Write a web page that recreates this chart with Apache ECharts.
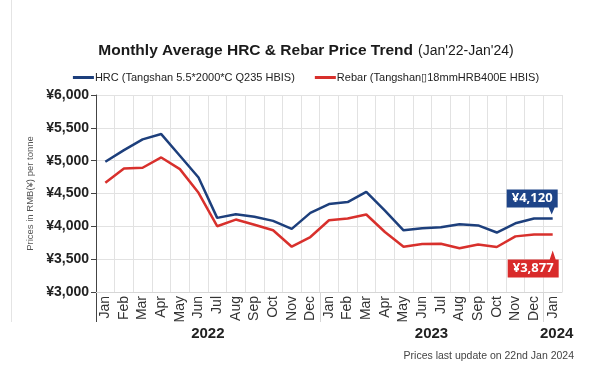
<!DOCTYPE html>
<html>
<head>
<meta charset="utf-8">
<script src="https://cdn.jsdelivr.net/npm/echarts@6/dist/echarts.min.js"></script>
<style>
html,body{margin:0;padding:0;background:#fff;}
#chart{width:612px;height:388px;}
</style>
</head>
<body>
<div id="chart"></div>
<script>
var months = ['Jan','Feb','Mar','Apr','May','Jun','Jul','Aug','Sep','Oct','Nov','Dec',
              'Jan','Feb','Mar','Apr','May','Jun','Jul','Aug','Sep','Oct','Nov','Dec','Jan'];
var years = [
  {label:'2022', from:0, to:11},
  {label:'2023', from:12, to:23},
  {label:'2024', from:24, to:24}
];
var hrcName = 'HRC (Tangshan 5.5*2000*C Q235 HBIS)';
var rebarName = 'Rebar (Tangshan\u25AF18mmHRB400E HBIS)';
var hrc = [4983, 5161, 5324, 5405, 5075, 4744, 4129, 4185, 4145, 4083, 3962, 4205,
           4340, 4370, 4526, 4240, 3940, 3972, 3986, 4032, 4014, 3906, 4046, 4120, 4120];
var rebar = [4663, 4881, 4892, 5049, 4871, 4510, 4002, 4103, 4024, 3940, 3690, 3837,
             4092, 4118, 4180, 3914, 3690, 3730, 3736, 3665, 3723, 3685, 3847, 3877, 3877];
var yTicks = {min:3000, max:6000, interval:500};
var titleMain = 'Monthly Average HRC & Rebar Price Trend';
var titleSub = "(Jan'22-Jan'24)";
var yName = 'Prices in RMB(\u00A5) per tonne';
var footer = 'Prices last update on 22nd Jan 2024';

var BLUE = '#1d3f7c', RED = '#d8302c';
var sans = "'Liberation Sans',Arial,sans-serif";
function fmt(v){ return '\u00A5' + v.toLocaleString('en-US'); }

var chart = echarts.init(document.getElementById('chart'));
var lastIdx = months.length - 1;
chart.setOption({
  animation:false,
  backgroundColor:'#fff',
  title:{
    text:'{b|' + titleMain + '} {n|' + titleSub + '}',
    left:'center', top:37,
    textStyle:{rich:{
      b:{fontFamily:sans, fontWeight:'bold', fontSize:15.5, color:'#1a1a1a'},
      n:{fontFamily:sans, fontWeight:'normal', fontSize:14, color:'#1a1a1a'}
    }}
  },
  legend:{
    top:67, left:'center',
    itemWidth:21, itemHeight:3, itemGap:20,
    icon:'rect',
    textStyle:{fontFamily:sans, fontSize:11, color:'#222', padding:[0,0,0,-4]},
    data:[hrcName, rebarName]
  },
  grid:{left:96, right:50, top:95, bottom:96},
  xAxis:{
    type:'category', data:months, boundaryGap:true,
    axisLine:{show:true, lineStyle:{color:'#d6d6d6'}},
    axisTick:{show:false},
    splitLine:{show:true, interval:0, lineStyle:{color:'#e2e2e2', width:1}},
    axisLabel:{rotate:90, interval:0, fontFamily:sans, fontSize:14, color:'#333', margin:4}
  },
  yAxis:{
    type:'value', min:yTicks.min, max:yTicks.max, interval:yTicks.interval,
    name:yName, nameLocation:'middle', nameGap:56,
    nameTextStyle:{fontFamily:sans, fontSize:9.5, color:'#555'},
    axisLine:{show:true, lineStyle:{color:'#444'}},
    axisTick:{show:true, length:5, lineStyle:{color:'#444'}},
    splitLine:{show:true, lineStyle:{color:'#e2e2e2'}},
    axisLabel:{formatter:fmt, fontFamily:sans, fontWeight:'bold', fontSize:14, color:'#222', margin:7}
  },
  series:[
    {
      name:hrcName, type:'line', data:hrc, symbol:'none',
      lineStyle:{color:BLUE, width:2.5}, itemStyle:{color:BLUE},
      markPoint:{
        data:[{coord:[lastIdx, hrc[lastIdx]], value:hrc[lastIdx]}],
        symbol:'path://M0,0 L51,0 L51,18 L48,18 L45,25 L42,18 L0,18 Z',
        symbolSize:[51,25], symbolKeepAspect:false, symbolOffset:[-20.5,-16.5],
        itemStyle:{color:'#1e4488'},
        label:{show:true, position:'inside', offset:[0,-3.5], formatter:function(p){return fmt(p.value);},
               fontFamily:"'Open Sans',sans-serif", fontWeight:'bold', fontSize:13, color:'#fff'}
      }
    },
    {
      name:rebarName, type:'line', data:rebar, symbol:'none',
      lineStyle:{color:RED, width:2.5}, itemStyle:{color:RED},
      markPoint:{
        data:[{coord:[lastIdx, rebar[lastIdx]], value:rebar[lastIdx]}],
        symbol:'path://M0,9 L42,9 L45,0 L48,9 L51,9 L51,27 L0,27 Z',
        symbolSize:[51,27], symbolKeepAspect:false, symbolOffset:[-19.5,29.5],
        itemStyle:{color:'#d92b2b'},
        label:{show:true, position:'inside', offset:[0,4.5], formatter:function(p){return fmt(p.value);},
               fontFamily:"'Open Sans',sans-serif", fontWeight:'bold', fontSize:13, color:'#fff'}
      }
    }
  ]
});

// Year labels and separators positioned with the chart's own scale
var gr = [];
var y0 = chart.convertToPixel({gridIndex:0}, [0, yTicks.min])[1];
function px(i){ return chart.convertToPixel({xAxisIndex:0}, i); }
var bounds = [px(0) - (px(1)-px(0))/2, (px(11)+px(12))/2, (px(23)+px(24))/2];
bounds.forEach(function(x){
  gr.push({type:'line', shape:{x1:Math.round(x)+0.5, y1:y0, x2:Math.round(x)+0.5, y2:y0+30},
           style:{stroke: x === bounds[0] ? '#444' : '#d6d6d6', lineWidth:1}});
});
years.forEach(function(yr){
  var cx = (px(yr.from) + px(yr.to)) / 2 + (yr.from === yr.to ? 4 : 0);
  gr.push({type:'text', x:cx, y:y0+42,
           style:{text:yr.label, fontFamily:sans, fontWeight:'bold', fontSize:15, fill:'#222',
                  align:'center', verticalAlign:'middle'}});
});
gr.push({type:'text', x:574, y:356,
         style:{text:footer, fontFamily:sans, fontSize:10.5, fill:'#444', align:'right', verticalAlign:'middle'}});
gr.push({type:'line', shape:{x1:11.5, y1:0, x2:11.5, y2:y0+30}, style:{stroke:'#e4e4e4', lineWidth:1}});
chart.setOption({graphic:gr});
</script>
</body>
</html>
